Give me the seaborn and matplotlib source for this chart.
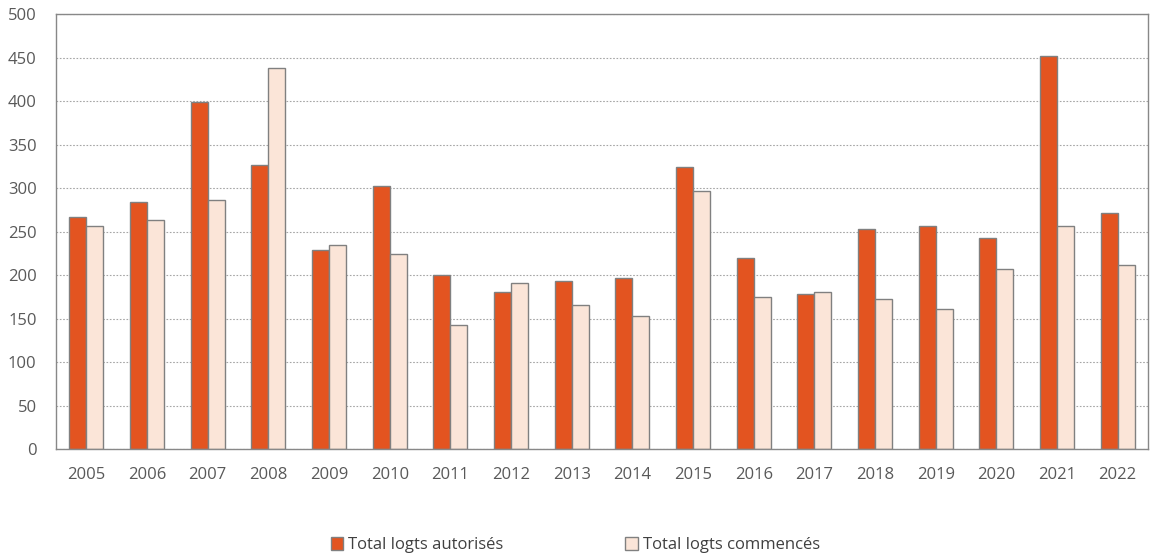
import pandas as pd
import seaborn as sns
from matplotlib import pyplot as plt

years = [str(y) for y in range(2005, 2023)]
autorises = [267, 284, 399, 326, 229, 302, 200, 181, 193, 197, 324, 219, 178, 253, 256, 243, 452, 271]
commences = [256, 263, 286, 438, 234, 224, 143, 191, 166, 153, 297, 175, 180, 173, 161, 207, 256, 212]
series = ["Total logts autorisés", "Total logts commencés"]
colors = ["#E35420", "#FBE5D8"]

df = pd.DataFrame({
    "annee": years * 2,
    "valeur": autorises + commences,
    "serie": [series[0]] * len(years) + [series[1]] * len(years),
})

sns.set_style("white")
plt.rcParams["font.family"] = ["Open Sans", "DejaVu Sans"]

fig = plt.figure(figsize=(11.51, 5.56), dpi=100)
ax = fig.add_axes([0.0487, 0.1924, 0.9487, 0.7824])

sns.barplot(data=df, x="annee", y="valeur", hue="serie", palette=colors,
            saturation=1, width=0.56, gap=0, edgecolor="#808080",
            linewidth=1.0, ax=ax, legend=True)

ax.set_ylim(0, 500)
ax.set_yticks(range(0, 501, 50))
ax.set_xlim(-0.5, len(years) - 0.5)
ax.set_xlabel("")
ax.set_ylabel("")
ax.yaxis.grid(True, linestyle=(0, (1.5, 1.5)), color="#A6A6A6", linewidth=0.8)
ax.set_axisbelow(True)
for s in ax.spines.values():
    s.set_color("#888888")
    s.set_linewidth(1.0)
ax.tick_params(axis="both", length=0, labelsize=12, colors="#595959")
ax.tick_params(axis="x", pad=13)
ax.tick_params(axis="y", pad=14)

handles, labels = ax.get_legend_handles_labels()
ax.get_legend().remove()
fig.legend(handles, labels, loc="lower center", bbox_to_anchor=(0.5, -0.022),
           ncol=2, frameon=False, fontsize=12, columnspacing=7.3,
           handlelength=0.75, handleheight=0.75, handletextpad=0.3,
           labelcolor="#404040")

fig.savefig("out.png", dpi=100)
